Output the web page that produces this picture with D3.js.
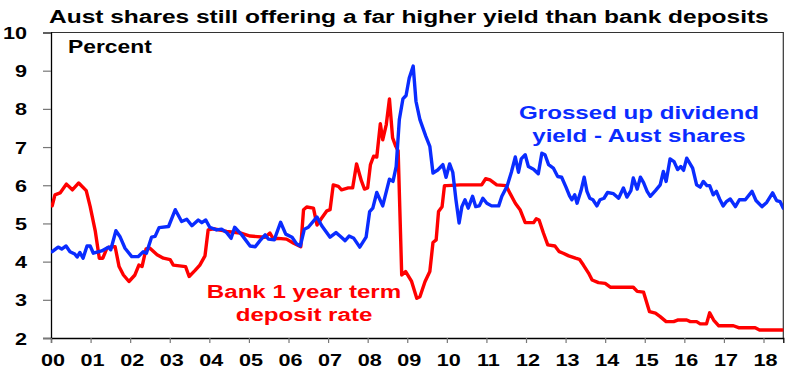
<!DOCTYPE html>
<html>
<head>
<meta charset="utf-8">
<script src="https://cdn.jsdelivr.net/npm/d3@7/dist/d3.min.js"></script>
<style>
  html, body { margin: 0; padding: 0; background: #fff; }
  svg { display: block; }
  text { font-family: "Liberation Sans", Arial, sans-serif; font-weight: bold; }
</style>
</head>
<body>
<svg id="chart" width="800" height="380"></svg>
<script>
// ---------- DATA (years since Jan 2000) ----------
const title = "Aust shares still offering a far higher yield than bank deposits";
const unitLabel = "Percent";
const xTickLabels = ["00","01","02","03","04","05","06","07","08","09","10","11","12","13","14","15","16","17","18"];
const yTicks = [2, 3, 4, 5, 6, 7, 8, 9, 10];

const depositYears = [
  0.03,0.10,0.23,0.39,0.54,0.70,0.89,0.99,1.12,1.22,
  1.31,1.41,1.51,1.62,1.72,1.83,1.97,2.12,2.22,2.30,
  2.40,2.50,2.68,2.84,3.01,3.09,3.40,3.49,3.64,3.76,
  3.89,3.97,4.10,4.44,4.78,5.03,5.41,5.53,5.62,5.74,
  5.95,6.13,6.31,6.38,6.46,6.63,6.72,6.84,6.97,7.05,
  7.13,7.26,7.34,7.51,7.62,7.72,7.84,7.92,8.00,8.07,
  8.15,8.23,8.32,8.38,8.47,8.55,8.63,8.71,8.77,8.86,
  8.96,9.11,9.24,9.32,9.45,9.57,9.65,9.73,9.79,9.88,
  9.94,10.00,10.34,10.88,10.98,11.09,11.26,11.50,11.60,11.73,
  11.85,11.98,12.19,12.26,12.33,12.44,12.55,12.73,12.84,12.94,
  13.08,13.25,13.35,13.45,13.58,13.67,13.83,14.00,14.13,14.71,
  14.81,14.97,15.12,15.27,15.39,15.54,15.73,15.83,16.06,16.15,
  16.31,16.40,16.56,16.64,16.74,16.87,17.24,17.37,17.79,17.90,
  18.50
];
const depositRate = [
  5.46,5.75,5.80,6.03,5.88,6.06,5.86,5.44,4.79,4.09,
  4.09,4.35,4.39,4.39,3.87,3.65,3.48,3.65,3.91,3.87,
  4.33,4.35,4.18,4.09,4.05,3.91,3.87,3.61,3.77,3.91,
  4.15,4.83,4.86,4.79,4.75,4.67,4.64,4.75,4.59,4.61,
  4.59,4.48,4.39,5.36,5.43,5.40,4.96,5.14,5.33,5.36,
  6.01,5.97,5.88,5.93,5.93,6.56,6.12,5.90,5.93,6.54,
  6.76,6.74,7.61,7.19,7.59,8.26,7.24,7.02,6.90,3.65,
  3.74,3.48,3.04,3.08,3.48,3.74,4.50,4.57,5.31,5.44,
  5.99,5.99,6.01,6.01,6.17,6.14,6.01,5.99,5.78,5.53,
  5.36,5.02,5.02,5.12,5.09,4.75,4.44,4.41,4.26,4.22,
  4.15,4.09,4.06,3.91,3.70,3.52,3.45,3.43,3.33,3.33,
  3.22,3.20,2.69,2.65,2.56,2.43,2.43,2.47,2.47,2.43,
  2.43,2.37,2.37,2.66,2.47,2.32,2.32,2.27,2.27,2.21,
  2.21
];

const yieldYears = [
  0.03,0.18,0.27,0.38,0.48,0.60,0.66,0.73,0.81,0.91,
  0.99,1.07,1.28,1.45,1.51,1.64,1.74,1.87,2.04,2.20,
  2.33,2.41,2.54,2.63,2.73,2.97,3.14,3.30,3.43,3.56,
  3.72,3.81,3.91,4.01,4.18,4.31,4.44,4.55,4.64,4.82,
  5.03,5.16,5.28,5.41,5.49,5.64,5.80,5.93,6.09,6.20,
  6.30,6.40,6.50,6.72,6.84,7.05,7.20,7.30,7.43,7.53,
  7.65,7.80,7.96,8.05,8.13,8.23,8.38,8.55,8.64,8.72,
  8.80,8.89,8.97,9.05,9.15,9.22,9.32,9.47,9.57,9.65,
  9.77,9.90,9.98,10.07,10.15,10.23,10.31,10.38,10.46,10.54,
  10.65,10.73,10.82,10.91,11.01,11.13,11.31,11.39,11.52,11.63,
  11.73,11.81,11.88,11.98,12.06,12.19,12.31,12.40,12.48,12.57,
  12.69,12.80,12.90,13.01,13.10,13.16,13.23,13.29,13.39,13.47,
  13.54,13.61,13.69,13.79,13.87,13.97,14.06,14.21,14.34,14.46,
  14.55,14.65,14.71,14.81,14.89,14.97,15.06,15.14,15.27,15.39,
  15.47,15.54,15.64,15.74,15.83,15.91,15.98,16.06,16.21,16.31,
  16.40,16.48,16.57,16.64,16.73,16.81,16.89,16.98,17.06,17.16,
  17.29,17.39,17.54,17.71,17.81,17.96,18.08,18.23,18.33,18.42,
  18.50
];
const dividendYield = [
  4.26,4.38,4.33,4.41,4.26,4.20,4.12,4.24,4.09,4.41,
  4.41,4.22,4.28,4.38,4.31,4.81,4.66,4.35,4.13,4.13,
  4.26,4.22,4.64,4.66,4.89,4.92,5.36,5.05,5.11,4.94,
  5.09,5.02,5.09,4.90,4.83,4.85,4.76,4.61,4.90,4.70,
  4.41,4.39,4.55,4.70,4.59,4.57,5.03,4.72,4.64,4.47,
  4.41,4.85,4.90,5.17,4.94,4.64,4.76,4.67,4.55,4.67,
  4.61,4.38,4.64,5.31,5.40,5.81,5.46,6.16,6.10,6.49,
  7.72,8.26,8.35,8.81,9.12,8.20,7.72,7.28,7.02,6.32,
  6.40,6.54,6.21,6.56,6.34,5.62,5.01,5.44,5.62,5.40,
  5.71,5.44,5.46,5.66,5.53,5.46,5.46,5.71,5.97,6.34,
  6.74,6.34,6.69,6.80,6.49,6.42,6.30,6.84,6.80,6.54,
  6.45,6.23,6.21,5.95,5.72,5.62,5.75,5.53,5.86,6.21,
  5.84,5.66,5.62,5.46,5.62,5.66,5.81,5.78,5.66,5.93,
  5.69,5.86,6.19,5.90,6.21,6.07,5.84,5.71,5.86,6.01,
  6.36,6.10,6.69,6.62,6.41,6.49,6.39,6.71,6.45,6.01,
  5.95,6.10,5.99,5.99,5.75,5.84,5.64,5.46,5.57,5.64,
  5.44,5.62,5.62,5.84,5.60,5.44,5.55,5.80,5.60,5.57,
  5.40
];

const depositLabel = ["Bank 1 year term", "deposit rate"];
const yieldLabel = ["Grossed up dividend", "yield - Aust shares"];

// ---------- LAYOUT ----------
const RED = "#ff0000", BLUE = "#0a2cff";
const SX = 1.27; // horizontal stretch of the original's text
const plot = { left: 51, right: 783.3, top: 32.5, bottom: 338 };

const svg = d3.select("#chart");
const x = d3.scaleLinear().domain([0, 18.5]).range([plot.left, plot.right]);
const y = d3.scaleLinear().domain([2, 10]).range([plot.bottom, plot.top]);

function stretchedText(g, tx, ty, str, size, anchor, fill, sx = SX) {
  return g.append("text")
    .attr("transform", `translate(${tx},${ty}) scale(${sx},1)`)
    .attr("text-anchor", anchor)
    .attr("font-size", size)
    .attr("fill", fill)
    .text(str);
}

// title
stretchedText(svg, 49, 23, title, 19, "start", "#000", 1.29);

// clip
svg.append("clipPath").attr("id", "clip").append("rect")
  .attr("x", plot.left).attr("y", plot.top)
  .attr("width", plot.right - plot.left).attr("height", plot.bottom - plot.top);

// frame (top & right)
svg.append("path")
  .attr("d", `M${plot.left},${plot.top}H${plot.right}V${plot.bottom}`)
  .attr("fill", "none").attr("stroke", "#333").attr("stroke-width", 1.2);

// y axis
const yAxis = svg.append("g")
  .attr("transform", `translate(${plot.left},0)`)
  .call(d3.axisLeft(y).tickValues(yTicks).tickSize(8).tickFormat(d3.format("d")));
yAxis.select(".domain").attr("stroke", "#000").attr("stroke-width", 1.3);
yAxis.selectAll(".tick line").attr("stroke", "#777").attr("stroke-width", 1.2);
yAxis.selectAll(".tick text")
  .attr("x", null).attr("dy", "0.36em")
  .attr("transform", `translate(-24,0) scale(${SX},1)`)
  .attr("font-size", 17).attr("font-family", "Liberation Sans, Arial, sans-serif")
  .attr("font-weight", "bold").attr("fill", "#000");

// x axis
const xAxis = svg.append("g")
  .attr("transform", `translate(0,${plot.bottom})`)
  .call(d3.axisBottom(x).tickValues(d3.range(xTickLabels.length)).tickSize(5)
        .tickFormat((d, i) => xTickLabels[i]));
xAxis.select(".domain").attr("stroke", "#000").attr("stroke-width", 1.3);
xAxis.selectAll(".tick line").attr("stroke", "#777").attr("stroke-width", 1.2);
xAxis.selectAll(".tick text")
  .attr("y", null).attr("dy", null)
  .attr("transform", `translate(1.5,28) scale(${SX},1)`)
  .attr("font-size", 17).attr("font-family", "Liberation Sans, Arial, sans-serif")
  .attr("font-weight", "bold").attr("fill", "#000");

// unit label
stretchedText(svg, 68, 53, unitLabel, 18, "start", "#000");

// lines
const line = d3.line().x(d => x(d[0])).y(d => y(d[1]));
const depositSeries = depositYears.map((t, i) => [t, depositRate[i]]);
const yieldSeries = yieldYears.map((t, i) => [t, dividendYield[i]]);

const lines = svg.append("g").attr("clip-path", "url(#clip)");
lines.append("path").datum(depositSeries)
  .attr("d", line).attr("fill", "none").attr("stroke", RED)
  .attr("stroke-width", 3.4).attr("stroke-linejoin", "round").attr("stroke-linecap", "round");
lines.append("path").datum(yieldSeries)
  .attr("d", line).attr("fill", "none").attr("stroke", BLUE)
  .attr("stroke-width", 3.4).attr("stroke-linejoin", "round").attr("stroke-linecap", "round");

// annotations
yieldLabel.forEach((s, i) => stretchedText(svg, 639, 119 + i * 23, s, 19, "middle", BLUE));
depositLabel.forEach((s, i) => stretchedText(svg, 304, 298 + i * 23, s, 19, "middle", RED));
</script>
</body>
</html>
